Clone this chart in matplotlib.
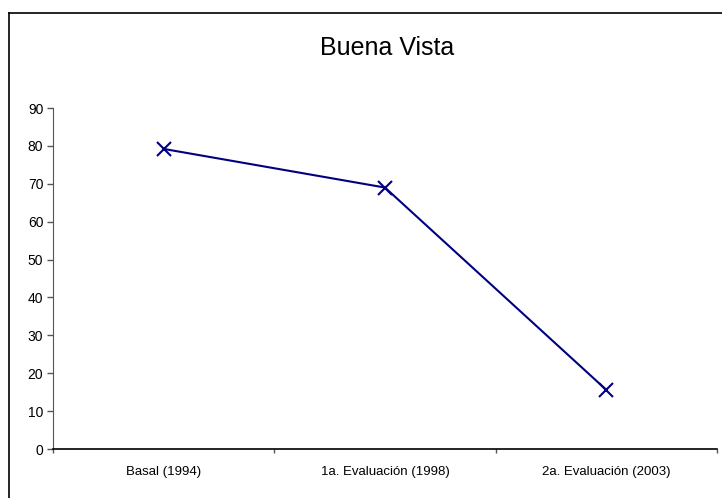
import matplotlib.pyplot as plt
from matplotlib.lines import Line2D

categories = ["Basal (1994)", "1a. Evaluación (1998)", "2a. Evaluación (2003)"]
values = [79.2, 69.0, 15.6]
y_ticks = [0, 10, 20, 30, 40, 50, 60, 70, 80, 90]

plt.rcParams["font.family"] = ["Liberation Sans", "DejaVu Sans"]

fig = plt.figure(figsize=(7.22, 4.98), dpi=100)
ax = fig.add_axes([53 / 722, 1 - 449 / 498, 664 / 722, 341 / 498])

x = list(range(len(categories)))
ax.plot(x, values, color="#000080", linewidth=1.5, marker="x",
        markersize=10, markeredgewidth=1.5)

ax.set_xlim(-0.5, len(categories) - 0.5)
ax.set_ylim(0, 90)
ax.set_yticks(y_ticks)
ax.set_xticks(x)
ax.set_xticklabels(categories, fontsize=9.5)
ax.set_xticks([i - 0.5 for i in range(len(categories) + 1)], minor=True)
ax.tick_params(axis="x", which="major", length=0, pad=12)
ax.tick_params(axis="x", which="minor", length=3, width=1, color="#555555")
ax.tick_params(axis="y", length=4, width=1, pad=3, labelsize=10, color="#555555")

ax.spines["top"].set_visible(False)
ax.spines["right"].set_visible(False)
ax.spines["left"].set_color("#555555")
ax.spines["bottom"].set_color("black")
ax.spines["bottom"].set_linewidth(1.2)

fig.text(387 / 722, 1 - 48 / 498, "Buena Vista", ha="center", va="center",
         fontsize=18)

# outer chart frame, cut off at right and bottom
fig.add_artist(Line2D([8.5 / 722, 8.5 / 722], [0, 1 - 13.5 / 498],
                      transform=fig.transFigure, color="black", linewidth=1.2))
fig.add_artist(Line2D([8.5 / 722, 1], [1 - 13.5 / 498, 1 - 13.5 / 498],
                      transform=fig.transFigure, color="black", linewidth=1.2))

fig.savefig("out.png", dpi=100)
